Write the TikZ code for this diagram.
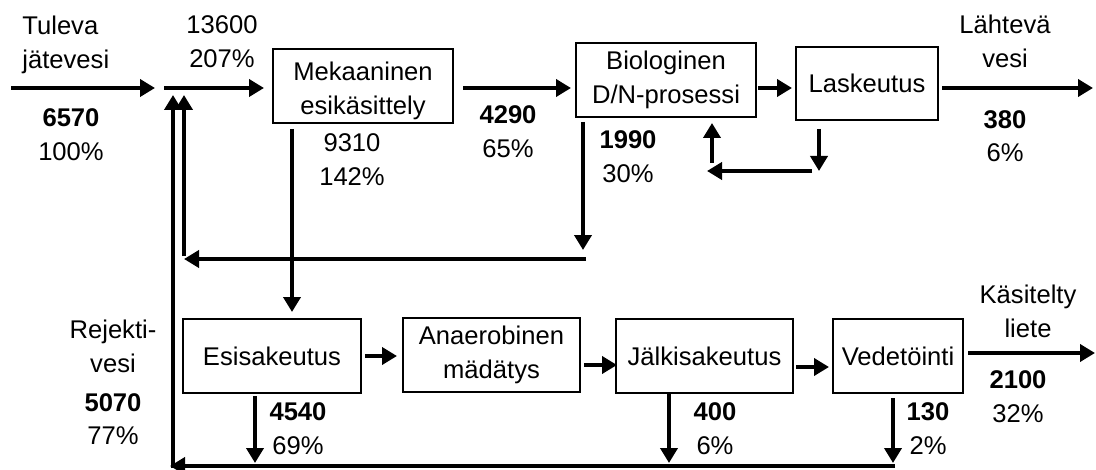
\documentclass[tikz,border=0pt]{standalone}
\usepackage{fontspec}
\setmainfont{Liberation Sans}
\usepackage{tikz}
\usetikzlibrary{arrows.meta,calc,positioning}

\begin{document}
\begin{tikzpicture}[
    x=0.5pt,
    y=-0.5pt,
    font=\fontsize{12.8}{16.8}\selectfont,
    processbox/.style={
        draw,
        line width=1pt,
        align=center,
        inner sep=0pt,
        minimum height=37pt
    },
    flowline/.style={
        line width=2pt,
        -{Triangle[length=7.5pt,width=8.5pt]}
    },
    valuelabel/.style={
        align=center,
        inner sep=0pt
    }
]
\useasboundingbox (0,0) rectangle (1096,470);

% Water line
\node[processbox,minimum width=90pt] (mek) at (363,86)
{\rule{0pt}{14.3pt}Mekaaninen\\esikäsittely};
\node[processbox,minimum width=90pt] (bio) at (666,80)
{Biologinen\\D/N-prosessi};
\node[processbox,minimum width=71pt,minimum height=36.5pt] (lask) at (867,83.5)
{Laskeutus};

\coordinate (inlet) at (11,88);
\coordinate (junc) at (160,88);
\coordinate (outlet) at (1093,88);

\draw[flowline] (inlet) -- ([xshift=-2.5pt]junc);
\draw[flowline] ([xshift=2pt]junc) -- ([xshift=-4pt]mek.west |- junc);
\draw[flowline] ([xshift=4.5pt]mek.east |- junc) -- ([xshift=-2pt]bio.west |- junc);
\draw[flowline] ([xshift=0.5pt]bio.east |- junc) -- ([xshift=-1.5pt]lask.west |- junc);
\draw[flowline] ([xshift=1.5pt]lask.east |- junc) -- (outlet);

% Return sludge
\coordinate (retR) at (819,171);
\coordinate (retL) at (712,171);
\draw[flowline] ([yshift=-4pt]lask.south -| retR) -- (retR);
\draw[flowline] ([xshift=-3.5pt]retR) -- ([xshift=-2.5pt]retL);
\draw[flowline] ([yshift=4pt]retL) -- ([yshift=-2.5pt]bio.south -| retL);

\node[valuelabel,align=left,anchor=west] (inTxt) at (22,45) {Tuleva\\jätevesi};
\node[valuelabel] (juncVal) at (222,41.5) {13600\\207\%};
\node[valuelabel] (inVal) at (71,134.5) {\textbf{6570}\\100\%};
\node[valuelabel] (mekVal) at (352,159.5) {9310\\142\%};
\node[valuelabel] (mekOutVal) at (508,131.5) {\textbf{4290}\\65\%};
\node[valuelabel] (bioVal) at (628,156.5) {\textbf{1990}\\30\%};
\node[valuelabel] (outTxt) at (1005,41.5) {Lähtevä\\vesi};
\node[valuelabel] (outVal) at (1005,136) {\textbf{380}\\6\%};

% Excess sludge back to inlet
\coordinate (bioDrop) at (583,259);
\coordinate (recL) at (184,259);
\draw[flowline] ([yshift=-2pt]bio.south -| bioDrop) -- ([yshift=4.5pt]bioDrop);
\draw[flowline] ([xshift=1.5pt]bioDrop) -- (recL);
\draw[flowline] ([yshift=1.5pt]recL) -- ([yshift=-3.5pt]recL |- junc);

% Sludge line
\node[processbox,minimum width=89pt] (esi) at (272,356) {Esisakeutus};
\node[processbox,minimum width=88.5pt] (ana) at (491.5,355)
{Anaerobinen\\mädätys};
\node[processbox,minimum width=88.5pt] (jalk) at (704.5,356) {Jälkisakeutus};
\node[processbox,minimum width=65pt] (vede) at (898,356) {Vedetöinti};

\coordinate (mekDrop) at (292,200);
\draw[flowline] ([yshift=-2.5pt]mek.south -| mekDrop) -- ([yshift=3pt]esi.north -| mekDrop);

\coordinate (anaOut) at ([yshift=-5pt]ana.east);
\coordinate (jalkOut) at ([yshift=-5.5pt]jalk.east);
\coordinate (sludge) at (1095,353);

\draw[flowline] ([xshift=1.5pt]esi.east) -- ([xshift=-2.5pt]ana.west |- esi.east);
\draw[flowline] ([xshift=1.5pt]anaOut) -- ([xshift=1pt]jalk.west |- anaOut);
\draw[flowline] ([xshift=1pt]jalkOut) -- ([xshift=-1.5pt]vede.west |- jalkOut);
\draw[flowline] ([xshift=2pt]vede.east |- sludge) -- (sludge);

% Reject water
\coordinate (esiRej) at (255,466);
\coordinate (jalkRej) at (669,466);
\coordinate (vedeRej) at (893,466);
\coordinate (rejR) at (895,466);
\coordinate (rejL) at (173,466);

\draw[flowline] ([yshift=-1pt]esi.south -| esiRej) -- ([yshift=1.5pt]esiRej);
\draw[flowline] (jalk.south -| jalkRej) -- ([yshift=1.5pt]jalkRej);
\draw[flowline] ([yshift=-2pt]vede.south -| vedeRej) -- ([yshift=1.5pt]vedeRej);
\draw[flowline] (rejR) -- ([xshift=-1.5pt]rejL);
\draw[flowline] ([yshift=-1pt]rejL) -- ([yshift=-3.5pt]rejL |- junc);

\node[valuelabel] (rejTxt) at (113,346.5) {Rejekti-\\vesi};
\node[valuelabel] (rejVal) at (113,419) {\textbf{5070}\\77\%};
\node[valuelabel] (esiVal) at (298,428.5) {\textbf{4540}\\69\%};
\node[valuelabel] (jalkVal) at (715,428.5) {\textbf{400}\\6\%};
\node[valuelabel] (vedeVal) at (928,428.5) {\textbf{130}\\2\%};
\node[valuelabel] (sludgeTxt) at (1028,311.5) {Käsitelty\\liete};
\node[valuelabel] (sludgeVal) at (1018,396.5) {\textbf{2100}\\32\%};

\end{tikzpicture}
\end{document}
